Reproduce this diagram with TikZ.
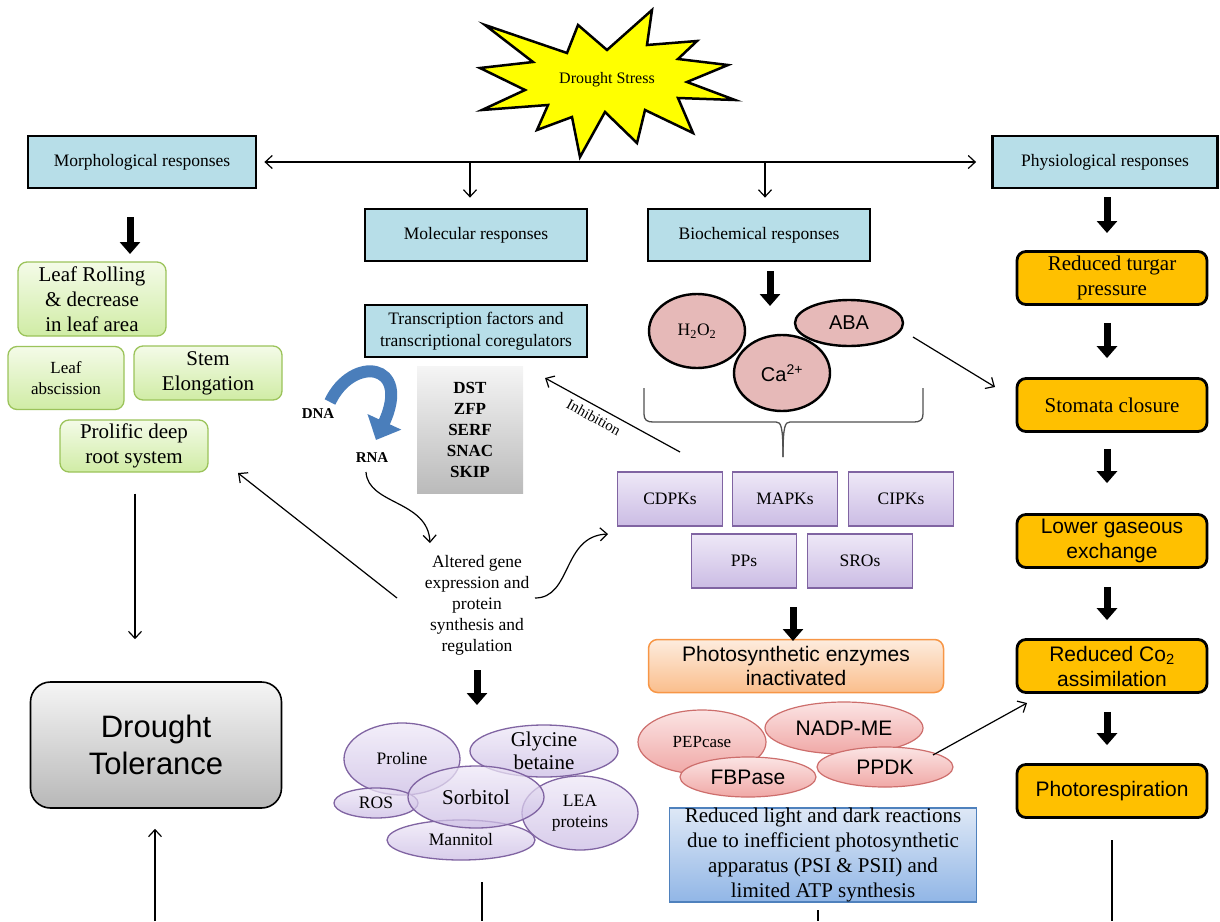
\documentclass[tikz,border=0pt]{standalone}
\usepackage{fontspec}
\setmainfont{Liberation Serif}
\setsansfont{Liberation Sans}
\usetikzlibrary{shapes.geometric,arrows.meta}
\definecolor{resp_blue}{RGB}{183,222,232}
\definecolor{star_yellow}{RGB}{255,255,0}
\definecolor{grn_top}{RGB}{244,251,232}
\definecolor{grn_bot}{RGB}{208,236,165}
\definecolor{grn_line}{RGB}{155,195,90}
\definecolor{phy_orange}{RGB}{255,192,0}
\definecolor{bio_pink}{RGB}{230,185,184}
\definecolor{osm_top}{RGB}{238,232,247}
\definecolor{osm_bot}{RGB}{203,188,228}
\definecolor{osm_line}{RGB}{128,100,162}
\definecolor{enz_top}{RGB}{251,228,228}
\definecolor{enz_bot}{RGB}{240,168,166}
\definecolor{enz_line}{RGB}{205,110,108}
\definecolor{ps_top}{RGB}{253,236,222}
\definecolor{ps_bot}{RGB}{250,190,140}
\definecolor{ps_line}{RGB}{247,150,70}
\definecolor{lr_top}{RGB}{222,232,246}
\definecolor{lr_bot}{RGB}{145,182,230}
\definecolor{lr_line}{RGB}{79,129,189}
\definecolor{dna_blue}{RGB}{74,126,187}
\definecolor{brace_grey}{RGB}{80,80,80}
\tikzstyle{resp}=[rectangle,fill=resp_blue,draw=black,line width=2.8pt,
  minimum width=222pt,minimum height=52pt,align=center,font=\fontsize{17.5}{21.5}\selectfont]
\tikzstyle{grn}=[rectangle,rounded corners=9pt,top color=grn_top,bottom color=grn_bot,
  draw=grn_line,line width=1.3pt,align=center,font=\fontsize{21}{25}\selectfont]
\tikzstyle{tol}=[rectangle,rounded corners=20pt,top color=black!4,bottom color=black!28,
  draw=black,line width=1.6pt,minimum width=251pt,minimum height=126pt,align=center,
  font=\sffamily\fontsize{31}{37}\selectfont]
\tikzstyle{tfs}=[rectangle,top color=black!4,bottom color=black!27,align=center,
  minimum width=106pt,minimum height=127pt,font=\bfseries\fontsize{17}{21}\selectfont]
\tikzstyle{bio}=[ellipse,fill=bio_pink,draw=black,line width=2.4pt,inner sep=0pt,
  font=\sffamily\fontsize{20}{24}\selectfont]
\tikzstyle{kin}=[rectangle,top color=osm_top,bottom color=osm_bot,draw=osm_line,
  line width=1.3pt,minimum width=105pt,minimum height=54pt,font=\fontsize{17.5}{21}\selectfont]
\tikzstyle{osm}=[ellipse,top color=osm_top,bottom color=osm_bot,draw=osm_line,line width=1.3pt,
  fill opacity=0.75,text opacity=1,inner sep=0pt,align=center,font=\fontsize{17.5}{21}\selectfont]
\tikzstyle{enz}=[ellipse,top color=enz_top,bottom color=enz_bot,draw=enz_line,line width=1.2pt,
  inner sep=0pt,font=\sffamily\fontsize{21}{25}\selectfont]
\tikzstyle{psy}=[rectangle,rounded corners=9pt,top color=ps_top,bottom color=ps_bot,draw=ps_line,
  line width=1.5pt,minimum width=295pt,minimum height=53pt,align=center,
  font=\sffamily\fontsize{21}{24}\selectfont]
\tikzstyle{lrx}=[rectangle,top color=lr_top,bottom color=lr_bot,draw=lr_line,line width=1.3pt,
  minimum width=307pt,minimum height=94pt,inner ysep=0pt,align=center,font=\fontsize{21}{25}\selectfont]
\tikzstyle{phy}=[rectangle,rounded corners=9pt,fill=phy_orange,draw=black,line width=2.8pt,
  minimum width=190pt,minimum height=53pt,align=center,font=\fontsize{21}{25}\selectfont]
\tikzstyle{fat}=[line width=7pt,-{Triangle[length=12pt,width=20pt]}]
\tikzstyle{none}=[]

\begin{document}
\begin{tikzpicture}[x=1pt, y=-1pt, line width=1.2pt, >={Straight Barb[length=7pt,width=13pt]}]
    \useasboundingbox (0,0) rectangle (1220,921);
    \draw [line width=2.5pt, fill=star_yellow] (485,25) -- (567,53) -- (578,25) -- (607,50)
      -- (652,10) -- (647,45) -- (697,41) -- (678,59) -- (728,65) -- (687,82) -- (735,100)
      -- (678,98) -- (693,133) -- (645,110) -- (637,143) -- (605,112) -- (580,157) -- (572,117)
      -- (537,130) -- (548,105) -- (482,110) -- (525,90) -- (480,68) -- (533,62) -- cycle;
    \node [style=none, font=\fontsize{16}{19}\selectfont] (0) at (607,80) {Drought Stress};
    \node [style=resp, minimum width=228pt] (1) at (142,162) {Morphological responses};
    \node [style=resp, minimum width=225pt] (2) at (1105,162) {Physiological responses};
    \node [style=resp] (3) at (476,235) {Molecular responses};
    \node [style=resp] (4) at (759,235) {Biochemical responses};
    \node [style=resp] (5) at (476,331) {Transcription factors and\\transcriptional coregulators};
    \node [style=tfs] (6) at (470,430) {DST\\ZFP\\SERF\\SNAC\\SKIP};
    \node [style=none, font=\bfseries\fontsize{15}{18}\selectfont] (7) at (318,414) {DNA};
    \node [style=none, font=\bfseries\fontsize{15}{18}\selectfont] (8) at (372,458) {RNA};
    \node [style=none, align=center, font=\fontsize{17.5}{21}\selectfont] (9) at (477,605)
      {Altered gene\\expression and\\protein\\synthesis and\\regulation};
    \node [style=grn, minimum width=148pt, minimum height=74pt] (10) at (92,299)
      {Leaf Rolling\\\&~decrease\\in leaf area};
    \node [style=grn, minimum width=116pt, minimum height=63pt, font=\fontsize{17}{21}\selectfont]
      (11) at (66,378) {Leaf\\abscission};
    \node [style=grn, minimum width=148pt, minimum height=54pt] (12) at (208,373) {Stem\\Elongation};
    \node [style=grn, minimum width=148pt, minimum height=52pt] (13) at (134,446)
      {Prolific deep\\root system};
    \node [style=tol] (14) at (156,745) {Drought\\Tolerance};
    \node [style=bio, minimum width=96pt, minimum height=74pt,
      font=\fontsize{17.5}{21}\selectfont] (15) at (697,331) {H\textsubscript{2}O\textsubscript{2}};
    \node [style=bio, minimum width=108pt, minimum height=46pt] (16) at (849,323) {ABA};
    \node [style=bio, minimum width=96pt, minimum height=76pt] (17) at (782,373)
      {Ca\textsuperscript{2+}};
    \node [style=kin] (18) at (670,499) {CDPKs};
    \node [style=kin] (19) at (785,499) {MAPKs};
    \node [style=kin] (20) at (901,499) {CIPKs};
    \node [style=kin] (21) at (744,561) {PPs};
    \node [style=kin] (22) at (860,561) {SROs};
    \node [style=psy] (23) at (796,666) {Photosynthetic enzymes\\inactivated};
    \node [style=enz, minimum width=128pt, minimum height=64pt,
      font=\fontsize{17}{20}\selectfont] (24) at (702,742) {PEPcase};
    \node [style=enz, minimum width=158pt, minimum height=52pt] (25) at (844,728) {NADP-ME};
    \node [style=enz, minimum width=136pt, minimum height=40pt] (26) at (748,777) {FBPase};
    \node [style=enz, minimum width=136pt, minimum height=40pt] (27) at (885,767) {PPDK};
    \node [style=lrx] (28) at (823,855) {Reduced light and dark reactions\\due to inefficient
      photosynthetic\\apparatus (PSI \& PSII) and\\limited ATP synthesis};
    \node [style=osm, minimum width=116pt, minimum height=72pt] (29) at (402,759) {Proline};
    \node [style=osm, minimum width=148pt, minimum height=52pt, inner ysep=-7pt,
      font=\fontsize{21}{23}\selectfont] (30) at (544,751) {Glycine\\betaine};
    \node [style=osm, minimum width=84pt, minimum height=30pt] (32) at (376,803) {ROS};
    \node [style=osm, minimum width=148pt, minimum height=40pt] (33) at (461,840) {Mannitol};
    \node [style=osm, minimum width=116pt, minimum height=74pt] (34) at (580,813) {LEA\\proteins};
    \node [style=osm, minimum width=136pt, minimum height=62pt,
      font=\fontsize{21}{25}\selectfont] (31) at (476,797) {Sorbitol};
    \node [style=phy] (35) at (1112,278) {Reduced turgar\\pressure};
    \node [style=phy] (36) at (1112,405) {Stomata closure};
    \node [style=phy, font=\sffamily\fontsize{21}{25}\selectfont] (37) at (1112,541)
      {Lower gaseous\\exchange};
    \node [style=phy, font=\sffamily\fontsize{21}{25}\selectfont] (38) at (1112,666)
      {Reduced Co\textsubscript{2}\\assimilation};
    \node [style=phy, font=\sffamily\fontsize{21}{25}\selectfont] (39) at (1112,791)
      {Photorespiration};
    \node [style=none] (40) at (470,163) {};
    \node [style=none] (41) at (765,163) {};
    \node [style=none] (42) at (130,217) {};
    \node [style=none] (43) at (130,254) {};
    \node [style=none] (44) at (770,271) {};
    \node [style=none] (45) at (770,306) {};
    \node [style=none] (46) at (1107,197) {};
    \node [style=none] (47) at (1107,233) {};
    \node [style=none] (56) at (477,670) {};
    \node [style=none] (57) at (477,705) {};
    \node [style=none] (58) at (793,607) {};
    \node [style=none] (59) at (793,641) {};
    \node [style=none] (60) at (155,921) {};
    \node [style=none] (61) at (397,598) {};
    \node [style=none] (62) at (238,473) {};
    \node [style=none] (63) at (366,472) {};
    \node [style=none] (64) at (430,543) {};
    \node [style=none] (65) at (535,598) {};
    \node [style=none] (66) at (608,534) {};
    \node [style=none] (67) at (680,452) {};
    \node [style=none] (68) at (545,378) {};
    \node [style=none] (69) at (913,337) {};
    \node [style=none] (70) at (995,387) {};
    \node [style=none] (71) at (933,755) {};
    \node [style=none] (72) at (1027,703) {};
    \node [style=none] (73) at (482,882) {};
    \node [style=none] (74) at (482,921) {};
    \node [style=none] (75) at (818,910) {};
    \node [style=none] (76) at (818,921) {};
    \node [style=none] (77) at (1112,840) {};
    \node [style=none] (78) at (1112,921) {};
    \node [style=none] (79) at (330,402) {};
    \node [style=none] (80) at (376,440) {};
    \draw [<->, shorten <=7pt, shorten >=15pt] (1) to (2);
    \draw [->, shorten >=10pt] (40.center) to (40.center |- 3.north);
    \draw [->, shorten >=10pt] (41.center) to (41.center |- 4.north);
    \draw [style=fat] (42.center) to (43.center);
    \draw [style=fat] (44.center) to (45.center);
    \draw [style=fat] (46.center) to (47.center);
    \draw [style=fat] (56.center) to (57.center);
    \draw [style=fat] (58.center) to (59.center);
    \draw [style=fat, shorten <=17pt, shorten >=19pt] ([xshift=-5pt]35.south) to ([xshift=-5pt]36.north);
    \draw [style=fat, shorten <=16pt, shorten >=30pt] ([xshift=-5pt]36.south) to ([xshift=-5pt]37.north);
    \draw [style=fat, shorten <=18pt, shorten >=18pt] ([xshift=-5pt]37.south) to ([xshift=-5pt]38.north);
    \draw [style=fat, shorten <=18pt, shorten >=18pt] ([xshift=-5pt]38.south) to ([xshift=-5pt]39.north);
    \draw [->, shorten <=21pt, shorten >=42pt] ([xshift=1pt]13.south) to ([xshift=1pt]13.south |- 14.north);
    \draw [->, shorten >=20pt] (60.center) to (60.center |- 14.south);
    \draw [->] (61.center) to (62.center);
    \draw [->] (63.center) .. controls (368,505) and (428,500) .. (64.center);
    \draw [->] (65.center) .. controls (572,598) and (562,536) .. (66.center);
    \draw [->] (67.center) to node [pos=0.6, sloped, below, inner sep=5pt, font=\fontsize{15}{18}\selectfont]
      {Inhibition} (68.center);
    \draw [->] (69.center) to (70.center);
    \draw [->] (71.center) to (72.center);
    \draw (73.center) to (74.center);
    \draw (75.center) to (76.center);
    \draw (77.center) to (78.center);
    \draw [line width=12pt, dna_blue, -{Triangle[length=20pt,width=36pt]}]
      (79.center) .. controls (352,355) and (412,362) .. (80.center);
    \draw [brace_grey, line width=1.3pt] (644,388) -- (644,414) .. controls (644,420) and (647,422)
      .. (653,422) -- (776,422) .. controls (781,422) and (783,426) .. (783,457);
    \draw [brace_grey, line width=1.3pt] (923,388) -- (923,414) .. controls (923,420) and (920,422)
      .. (914,422) -- (790,422) .. controls (785,422) and (783,426) .. (783,457);
\end{tikzpicture}
\end{document}
